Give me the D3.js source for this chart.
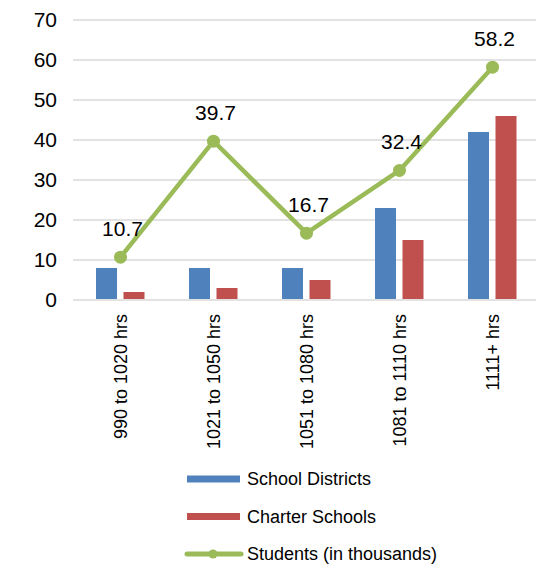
<!DOCTYPE html>
<html>
<head>
<meta charset="utf-8">
<script src="https://cdn.jsdelivr.net/npm/d3@7"></script>
<style>
  html, body { margin: 0; padding: 0; background: #fff; }
  svg text { font-family: Arial, "Liberation Sans", sans-serif; fill: #000; }
</style>
</head>
<body>
<svg id="chart" width="536" height="565"></svg>
<script>
const categories = ["990 to 1020 hrs", "1021 to 1050 hrs", "1051 to 1080 hrs", "1081 to 1110 hrs", "1111+ hrs"];
const schoolDistricts = [8, 8, 8, 23, 42];
const charterSchools = [2, 3, 5, 15, 46];
const students = [10.7, 39.7, 16.7, 32.4, 58.2];
const yTicks = [0, 10, 20, 30, 40, 50, 60, 70];

const blue = "#4F81BD", red = "#C0504D", green = "#9BBB59";

const svg = d3.select("#chart");

const x = d3.scaleBand().domain(categories).range([74, 539]).padding(0);
const y = d3.scaleLinear().domain([0, 70]).range([300, 20]);
const cx = d => x(d) + x.bandwidth() / 2;

// gridlines
svg.append("g")
  .selectAll("line")
  .data(yTicks)
  .join("line")
  .attr("x1", 73).attr("x2", 536)
  .attr("y1", d => y(d)).attr("y2", d => y(d))
  .attr("stroke", "#d9d9d9")
  .attr("stroke-width", 1.5);

// y axis labels
const yAxis = svg.append("g")
  .attr("transform", "translate(57,0)")
  .call(d3.axisLeft(y).tickValues(yTicks).tickSize(0).tickPadding(0));
yAxis.select(".domain").remove();
yAxis.selectAll("text")
  .attr("font-size", 21)
  .attr("font-family", "Arial, 'Liberation Sans', sans-serif")
  .attr("fill", "#000");

// bars
const barW = 21;
svg.append("g")
  .selectAll("rect")
  .data(categories)
  .join("rect")
  .attr("x", d => cx(d) - 24.5)
  .attr("width", barW)
  .attr("y", (d, i) => y(schoolDistricts[i]))
  .attr("height", (d, i) => y(0) - y(schoolDistricts[i]) - 1)
  .attr("fill", blue);

svg.append("g")
  .selectAll("rect")
  .data(categories)
  .join("rect")
  .attr("x", d => cx(d) + 3)
  .attr("width", barW)
  .attr("y", (d, i) => y(charterSchools[i]))
  .attr("height", (d, i) => y(0) - y(charterSchools[i]) - 1)
  .attr("fill", red);

// line
const line = d3.line()
  .x((d, i) => cx(categories[i]))
  .y(d => y(d));

svg.append("path")
  .datum(students)
  .attr("d", line)
  .attr("fill", "none")
  .attr("stroke", green)
  .attr("stroke-width", 4.5)
  .attr("stroke-linejoin", "round");

svg.append("g")
  .selectAll("circle")
  .data(students)
  .join("circle")
  .attr("cx", (d, i) => cx(categories[i]))
  .attr("cy", d => y(d))
  .attr("r", 6.5)
  .attr("fill", green);

svg.append("g")
  .selectAll("text")
  .data(students)
  .join("text")
  .attr("x", (d, i) => cx(categories[i]) + 2)
  .attr("y", d => y(d) - 21)
  .attr("text-anchor", "middle")
  .attr("font-size", 21)
  .text(d => d.toFixed(1));

// category labels
svg.append("g")
  .selectAll("text")
  .data(categories)
  .join("text")
  .attr("transform", d => `translate(${cx(d) + 6},314) rotate(-90)`)
  .attr("text-anchor", "end")
  .attr("font-size", 18)
  .text(d => d);

// legend
const legendItems = [
  { label: "School Districts", color: blue, type: "bar" },
  { label: "Charter Schools", color: red, type: "bar" },
  { label: "Students (in thousands)", color: green, type: "line" }
];
const lg = svg.append("g")
  .selectAll("g")
  .data(legendItems)
  .join("g")
  .attr("transform", (d, i) => `translate(187,${479 + i * 37.5})`);

lg.filter(d => d.type === "bar")
  .append("rect")
  .attr("x", 0).attr("y", -3.5)
  .attr("width", 53).attr("height", 7)
  .attr("fill", d => d.color);

lg.filter(d => d.type === "line")
  .append("line")
  .attr("x1", 0).attr("x2", 54)
  .attr("y1", 0).attr("y2", 0)
  .attr("stroke", d => d.color)
  .attr("stroke-width", 5)
  .attr("stroke-linecap", "round");

lg.filter(d => d.type === "line")
  .append("circle")
  .attr("cx", 26).attr("cy", 0).attr("r", 4.5)
  .attr("fill", d => d.color);

lg.append("text")
  .attr("x", 60)
  .attr("y", 0)
  .attr("dy", "0.35em")
  .attr("font-size", 18)
  .text(d => d.label);
</script>
</body>
</html>
